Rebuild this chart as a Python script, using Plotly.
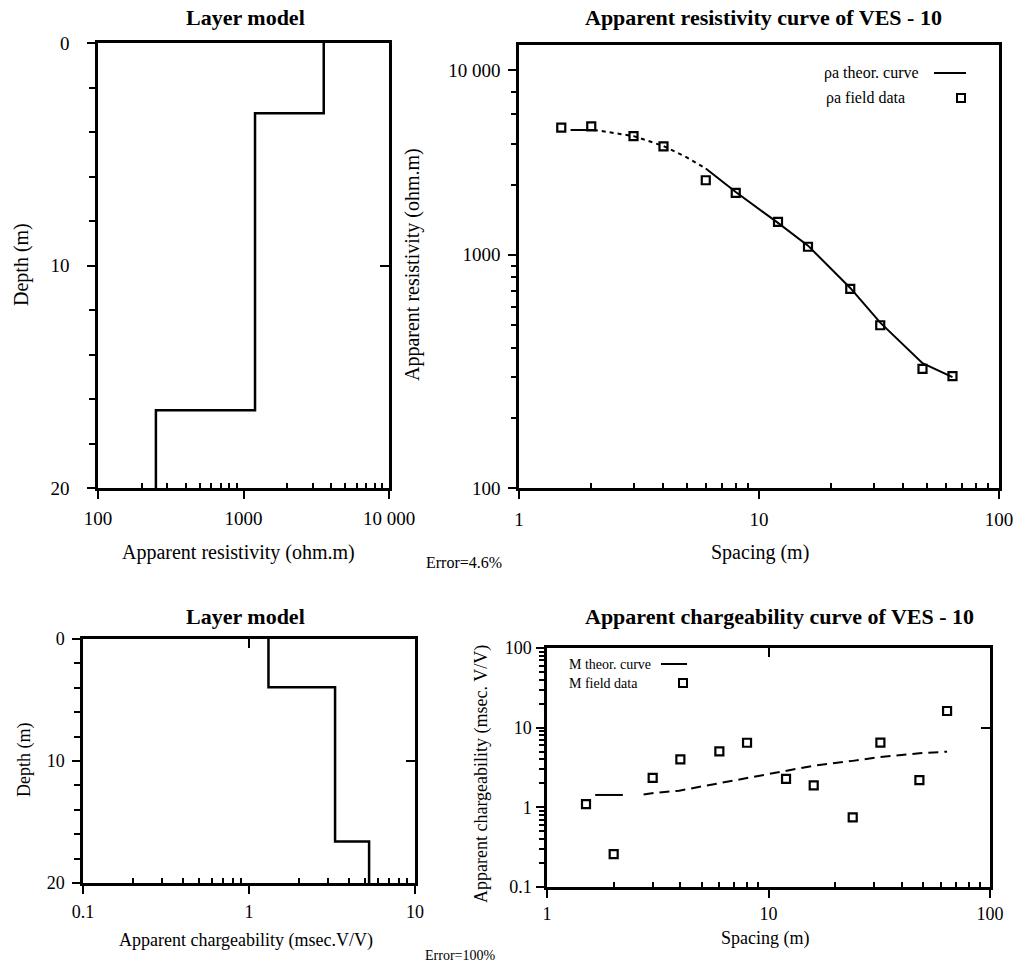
import plotly.graph_objects as go

W, H = 1015, 968
FONT = "Liberation Serif"

# ---------------- data ----------------
# Layer model (resistivity)
res_layer_rho = [3560, 1200, 250]          # ohm.m
res_layer_bounds = [3.16, 16.5]            # depth of interfaces (m)
res_max_depth = 20

# Apparent resistivity sounding
spacing = [1.5, 2, 3, 4, 6, 8, 12, 16, 24, 32, 48, 64]
rho_field = [3515, 3556, 3228, 2917, 2089, 1845, 1386, 1083, 714, 499, 324, 302]
rho_theory_x = [1.64, 2.05, 2.2, 3, 4, 5, 6, 8, 12, 16, 24, 32, 48, 64]
rho_theory_y = [3430, 3430, 3400, 3230, 2930, 2620, 2344, 1860, 1371, 1095, 721, 512, 343, 299]

# Layer model (chargeability)
chg_layer_m = [1.31, 3.30, 5.29]           # msec.V/V
chg_layer_bounds = [3.96, 16.6]
chg_max_depth = 20

# Apparent chargeability sounding
m_field = [1.10, 0.258, 2.34, 4.0, 5.04, 6.47, 2.28, 1.89, 0.75, 6.5, 2.2, 16.2]
m_theory_x = [1.65, 2.2, 2.73, 3.05, 3.95, 6, 8, 12, 16, 24, 32, 48, 64]
m_theory_y = [1.43, 1.43, 1.45, 1.52, 1.62, 2.0, 2.34, 2.82, 3.33, 3.83, 4.28, 4.77, 5.0]

# tick labels
res_x_ticks = [100, 1000, 10000]
res_x_ticktext = ["100", "1000", "10 000"]
depth_ticks = [0, 10, 20]
sp_ticks = [1, 10, 100]
sp_ticktext = ["1", "10", "100"]
rho_y_ticks = [100, 1000, 6200]
rho_y_ticktext = ["100", "1000", "10 000"]
chg_x_ticks = [0.1, 1, 10]
chg_x_ticktext = ["0.1", "1", "10"]
m_y_ticks = [0.1, 1, 10, 100]
m_y_ticktext = ["0.1", "1", "10", "100"]


def step_path(values, bounds, maxd):
    xs, ys = [], []
    tops = [0] + bounds
    bots = bounds + [maxd]
    for v, t, b in zip(values, tops, bots):
        xs += [v, v]
        ys += [t, b]
    return xs, ys


def minor_log(lo_dec, hi_dec):
    out = []
    for d in range(lo_dec, hi_dec):
        for k in range(2, 10):
            out.append(k * 10 ** d)
    return out


def px2x(px):
    return px / W


def px2y(py):
    return 1 - py / H


def xd(a, b):
    return [px2x(a), px2x(b)]


def yd(top, bottom):
    return [px2y(bottom), px2y(top)]


fig = go.Figure()
LINE = dict(color="black", width=2.5)

# Panel A: layer model resistivity
xs, ys = step_path(res_layer_rho, res_layer_bounds, res_max_depth)
fig.add_trace(go.Scatter(x=xs, y=ys, mode="lines", line=LINE, xaxis="x", yaxis="y",
                         showlegend=False, hoverinfo="skip"))

# Panel B: resistivity curve
n = len(rho_theory_x)
segs = [(0, 2, "solid"), (1, 7, "4px,4px"), (6, n, "solid")]
for a, b, dash in segs:
    fig.add_trace(go.Scatter(x=rho_theory_x[a:b], y=rho_theory_y[a:b], mode="lines",
                             line=dict(color="black", width=2, dash=dash),
                             xaxis="x2", yaxis="y2", showlegend=False))
fig.add_trace(go.Scatter(x=spacing, y=rho_field, mode="markers",
                         marker=dict(symbol="square-open", size=8, color="black",
                                     line=dict(width=2.2, color="black")),
                         xaxis="x2", yaxis="y2", showlegend=False))

# Panel C: layer model chargeability
xs, ys = step_path(chg_layer_m, chg_layer_bounds, chg_max_depth)
fig.add_trace(go.Scatter(x=xs, y=ys, mode="lines", line=LINE, xaxis="x3", yaxis="y3",
                         showlegend=False, hoverinfo="skip"))

# Panel D: chargeability curve
fig.add_trace(go.Scatter(x=m_theory_x[:2], y=m_theory_y[:2], mode="lines",
                         line=dict(color="black", width=2),
                         xaxis="x4", yaxis="y4", showlegend=False))
fig.add_trace(go.Scatter(x=m_theory_x[2:], y=m_theory_y[2:], mode="lines",
                         line=dict(color="black", width=2, dash="10px,6px"),
                         xaxis="x4", yaxis="y4", showlegend=False))
fig.add_trace(go.Scatter(x=spacing, y=m_field, mode="markers",
                         marker=dict(symbol="square-open", size=8, color="black",
                                     line=dict(width=2.2, color="black")),
                         xaxis="x4", yaxis="y4", showlegend=False))

# empty traces that register the opposite-side tick axes
for xa, ya in [("x", "y5"), ("x3", "y6"), ("x5", "y3"), ("x6", "y4"), ("x4", "y7")]:
    fig.add_trace(go.Scatter(x=[], y=[], mode="markers", xaxis=xa, yaxis=ya,
                             showlegend=False, hoverinfo="skip"))


def axis(domain, rng, typ, tickvals, ticktext, fs, standoff, minor=None, anchor=None):
    d = dict(domain=domain, range=rng, type=typ, tickmode="array", tickvals=tickvals,
             ticktext=ticktext, ticks="outside", ticklen=8, tickwidth=2, tickcolor="black",
             showline=True, linecolor="black", linewidth=2.5, mirror=True,
             showgrid=False, zeroline=False, anchor=anchor, automargin=False,
             tickfont=dict(family=FONT, size=fs, color="black"),
             ticklabelstandoff=standoff)
    if minor is not None:
        d["minor"] = minor
    return d


def minor_arr(vals, ticks="inside", ln=5):
    return dict(tickmode="array", tickvals=vals, ticks=ticks, ticklen=ln, tickwidth=1.5,
                tickcolor="black", showgrid=False)


def minor_lin(ticks="outside"):
    return dict(tickmode="linear", tick0=0, dtick=2, ticks=ticks, ticklen=6,
                tickwidth=1.5, tickcolor="black", showgrid=False)


def mirror_ticks(overlay, anchor, side, rng, typ, vals):
    # opposite-side axis carrying only the single inward major tick seen in the reference
    return dict(overlaying=overlay, anchor=anchor, side=side, range=rng, type=typ,
                autorange=False, fixedrange=True,
                tickmode="array", tickvals=vals, ticks="inside", ticklen=9, tickwidth=2,
                tickcolor="black", showticklabels=False, showline=False, showgrid=False,
                zeroline=False, automargin=False)


layout = dict(
    template="none",
    width=W, height=H, autosize=False,
    margin=dict(l=0, r=0, t=0, b=0, pad=0, autoexpand=False),
    paper_bgcolor="white", plot_bgcolor="white",
    showlegend=False,
    font=dict(family=FONT, color="black"),
)

# A
layout["xaxis"] = axis(xd(98, 389), [2, 4], "log", res_x_ticks, res_x_ticktext, 19, 3,
                       minor_arr(minor_log(2, 4)), anchor="y")
layout["yaxis"] = axis(yd(43, 488), [20, 0], "linear", depth_ticks,
                       [str(v) for v in depth_ticks], 19, 14, minor_lin(), anchor="x")
# B
layout["xaxis2"] = axis(xd(519, 999), [0, 2], "log", sp_ticks, sp_ticktext, 19, 4,
                        minor_arr(minor_log(0, 2)), anchor="y2")
layout["yaxis2"] = axis(yd(45, 488), [2, 3.9], "log", rho_y_ticks, rho_y_ticktext, 19, 4,
                        minor_arr([200, 300, 400, 500, 600, 700, 800, 900, 2000, 3000, 4000, 5000],
                                  "outside", 5), anchor="x2")
# C
layout["xaxis3"] = axis(xd(83, 415), [-1, 1], "log", chg_x_ticks, chg_x_ticktext, 18, 3,
                        minor_arr(minor_log(-1, 1)), anchor="y3")
layout["yaxis3"] = axis(yd(639, 883), [20, 0], "linear", depth_ticks,
                        [str(v) for v in depth_ticks], 18, 4, minor_lin(), anchor="x3")
# D
layout["xaxis4"] = axis(xd(547, 990), [0, 2], "log", sp_ticks, sp_ticktext, 18, 1,
                        minor_arr(minor_log(0, 2)), anchor="y4")
layout["yaxis4"] = axis(yd(648, 887), [-1, 2], "log", m_y_ticks, m_y_ticktext, 18, 1,
                        minor_arr(minor_log(-1, 2), "outside", 5), anchor="x4")

# single mirrored ticks on the opposite sides
layout["yaxis5"] = mirror_ticks("y", "x", "right", [20, 0], "linear", [10])
layout["yaxis6"] = mirror_ticks("y3", "x3", "right", [20, 0], "linear", [10])
layout["xaxis5"] = mirror_ticks("x3", "y3", "top", [-1, 1], "log", [1])
layout["xaxis6"] = mirror_ticks("x4", "y4", "top", [0, 2], "log", [10])
layout["yaxis7"] = mirror_ticks("y4", "x4", "right", [-1, 2], "log", [10])

fig.update_layout(**layout)


def ann(px, py, text, size, bold=False, angle=0, xanchor="center"):
    t = f"<b>{text}</b>" if bold else text
    fig.add_annotation(x=px2x(px), y=px2y(py), xref="paper", yref="paper", text=t,
                       showarrow=False, textangle=angle, xanchor=xanchor, yanchor="middle",
                       font=dict(family=FONT, size=size, color="black"))


ann(245, 18, "Layer model", 22, True)
ann(763, 18, "Apparent resistivity curve of VES - 10", 22, True)
ann(245, 616, "Layer model", 22, True)
ann(779, 616, "Apparent chargeability curve of VES - 10", 22, True)

ann(22, 265, "Depth (m)", 20, angle=-90)
ann(238, 552, "Apparent resistivity (ohm.m)", 20)
ann(413, 265, "Apparent resistivity (ohm.m)", 20, angle=-90)
ann(760, 552, "Spacing (m)", 20)
ann(464, 562, "Error=4.6%", 16)

ann(24, 760, "Depth (m)", 18, angle=-90)
ann(246, 940, "Apparent chargeability (msec.V/V)", 18)
ann(481, 774, "Apparent chargeability (msec. V/V)", 18, angle=-90)
ann(765, 938, "Spacing (m)", 18)
ann(460, 955, "Error=100%", 14)

# legends (text + swatches)
ann(822, 73, "ρa theor. curve", 16, xanchor="left")
ann(824, 98, "ρa field data", 16, xanchor="left")
ann(567, 664, "M theor. curve", 14, xanchor="left")
ann(567, 683, "M field data", 14, xanchor="left")


def pline(x0, x1, y):
    fig.add_shape(type="line", xref="paper", yref="paper", x0=px2x(x0), x1=px2x(x1),
                  y0=px2y(y), y1=px2y(y), line=dict(color="black", width=2))


def psq(cx, cy, s=4):
    fig.add_shape(type="rect", xref="paper", yref="paper", x0=px2x(cx - s), x1=px2x(cx + s),
                  y0=px2y(cy + s), y1=px2y(cy - s),
                  line=dict(color="black", width=2), fillcolor="white")


pline(934, 966, 73)
psq(961, 98)
pline(661, 687, 664)
psq(683, 683)

# remove the default 8 px body margin so the figure fills the window exactly
fig.write_html("out.html", config={"displayModeBar": False},
               post_script="document.body.style.margin='0';document.body.style.padding='0';")
